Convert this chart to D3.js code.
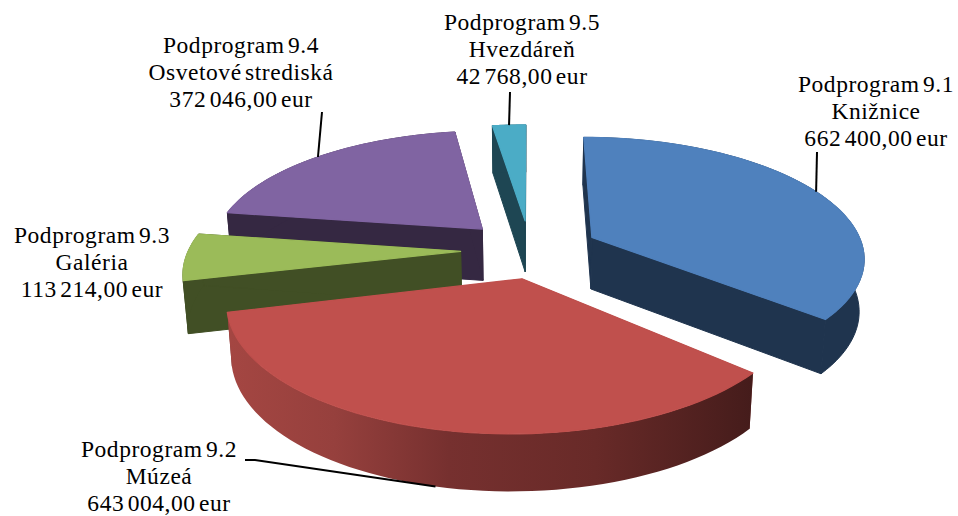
<!DOCTYPE html>
<html><head><meta charset="utf-8">
<script src="https://cdn.jsdelivr.net/npm/d3@7"></script>
<style>html,body{margin:0;padding:0;background:#fff}svg{display:block}</style>
</head><body><svg id="c" width="958" height="516"></svg>
<script>
const names = ["Podprogram 9.1","Podprogram 9.2","Podprogram 9.3","Podprogram 9.4","Podprogram 9.5"];
const subnames = ["Knižnice","Múzeá","Galéria","Osvetové strediská","Hvezdáreň"];
const values = [662400,643004,113214,372046,42768];
const valueLabels = ["662 400,00 eur","643 004,00 eur","113 214,00 eur","372 046,00 eur","42 768,00 eur"];
const topColors = ["#4f81bd","#c0504d","#9bbb59","#8064a2","#4bacc6"];
const sideColors = ["#1f344e","#7a3230","#414f25","#352842","#1e4653"];
const labelX = [876,159,92,241,522];
const labelY = [92,457,243,53,30];
const drawOrder = [4,3,2,0,1];
const apexNudge = [[0,0],[0.03,0.015],[0,0],[0,0],[0,0]];

const cx=530, cy=250, k=119, a=0.154, rx0=272, explode=0.255, depth=52, shrink=0.985;
function project(X,Y,bottom){
  const D=1+a*Y;
  let x=cx+rx0*X/D, y=cy-k*Y/D;
  if(bottom){ x=cx+(x-cx)*shrink; y+=depth/(1+a*Y*0.5); }
  return [x,y];
}
const pie=d3.pie().sort(null).value(d=>d).startAngle(0).endAngle(2*Math.PI);
const arcs=pie(values);
const line=d3.line();
const svg=d3.select("#c");
const defs=svg.append("defs");
const grad=defs.append("linearGradient").attr("id","redSide").attr("gradientUnits","userSpaceOnUse")
  .attr("x1",230).attr("x2",752).attr("y1",0).attr("y2",0);
[[0,"#a44642"],[0.2,"#96403d"],[0.42,"#76302f"],[0.7,"#682a28"],[1,"#451c1b"]].forEach(s=>
  grad.append("stop").attr("offset",s[0]).attr("stop-color",s[1]));

function rim(d,bottom,off){
  const n=60,pts=[];
  for(let i=0;i<=n;i++){
    const t=d.startAngle+(d.endAngle-d.startAngle)*i/n;
    pts.push(project(Math.sin(t)+off[0],Math.cos(t)+off[1],bottom));
  }
  return pts;
}
const chart=svg.append("g");
drawOrder.forEach(i=>{
  const d=arcs[i], mid=(d.startAngle+d.endAngle)/2;
  const off=[explode*Math.sin(mid),explode*Math.cos(mid)];
  const top=rim(d,false,off), bot=rim(d,true,off);
  const ax=off[0]+apexNudge[i][0], ay=off[1]+apexNudge[i][1];
  const apexT=project(ax,ay,false), apexB=project(ax,ay,true);
  const side=sideColors[i];
  // radial walls
  [[apexT,top[0],bot[0],apexB],[apexT,top[top.length-1],bot[bot.length-1],apexB]].forEach(p=>
    chart.append("path").attr("d",line(p)+"Z").attr("fill",side).attr("stroke",i===1?"none":side).attr("stroke-width",1));
  // outer rim
  chart.append("path").attr("d",line(top.concat(bot.slice().reverse()))+"Z")
    .attr("fill",i===1?"url(#redSide)":side).attr("stroke",i===1?"none":side).attr("stroke-width",1);
  // top face
  chart.append("path").attr("d",line([apexT].concat(top))+"Z").attr("fill",topColors[i])
    .attr("stroke",topColors[i]).attr("stroke-width",1.2).attr("stroke-linejoin","round");
});
// leaders
const leaderFrom=[[817,152],[255,460],null,[322,112],[510,92]];
arcs.forEach((d,i)=>{
  if(!leaderFrom[i])return;
  const mid=(d.startAngle+d.endAngle)/2;
  const off=[explode*Math.sin(mid),explode*Math.cos(mid)];
  const end=project(Math.sin(mid)+off[0],Math.cos(mid)+off[1],i===1);
  const pts=[leaderFrom[i],end];
  if(i===1)pts.unshift([245,460]);
  svg.append("path").attr("d",line(pts)).attr("fill","none").attr("stroke","#000").attr("stroke-width",2);
});
// labels
const t=svg.append("g").attr("font-family","'Liberation Serif',serif").attr("font-size",23.5)
  .attr("letter-spacing",0.55).attr("word-spacing",-3)
  .attr("fill","#000").attr("text-anchor","middle");
names.forEach((n,i)=>{
  [n,subnames[i],valueLabels[i]].forEach((s,j)=>{
    t.append("text").attr("x",labelX[i]).attr("y",labelY[i]+j*27).text(s);
  });
});
</script></body></html>
